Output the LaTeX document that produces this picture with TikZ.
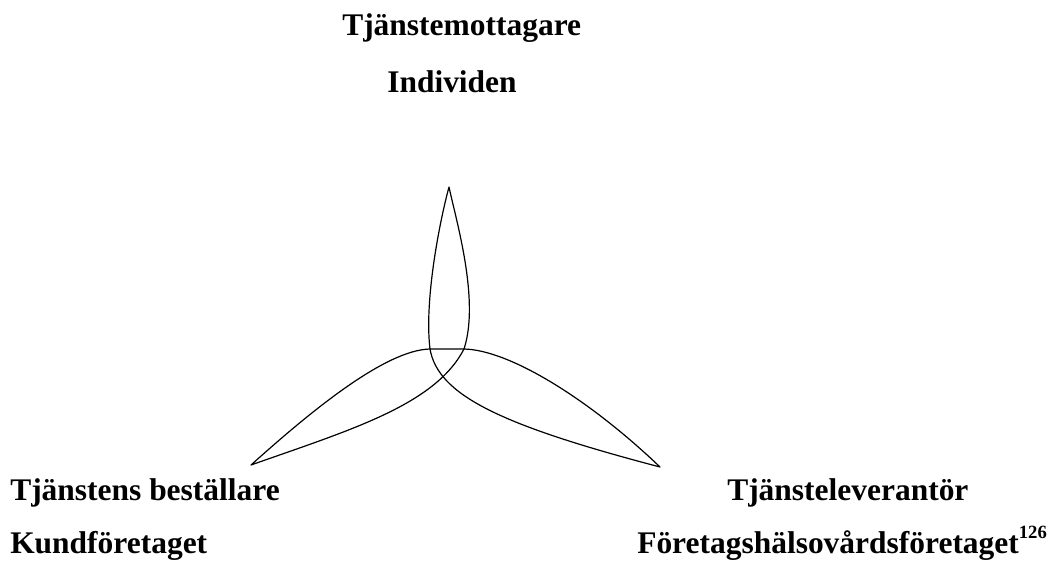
\documentclass[tikz,border=0pt]{standalone}
\usepackage{fontspec}
\setmainfont{Liberation Serif}
\usepackage{tikz}
\tikzset{
  lbl/.style   = {font=\fontsize{23.6}{28}\selectfont\bfseries, inner sep=0pt,
                  anchor=base west},
  petal/.style = {draw=black, line width=0.9pt, line join=round}
}
\newcommand{\fnref}[1]{\raisebox{11pt}{\fontsize{14}{14}\selectfont #1}}

\begin{document}
\begin{tikzpicture}[x=0.75pt, y=-0.75pt]
\useasboundingbox (0,0) rectangle (1060,564);

\node[lbl] (mottagare)  at (342,35)  {Tjänstemottagare};
\node[lbl] (individen)  at (387,92)  {Individen};
\node[lbl] (bestallare) at (10,500)  {Tjänstens beställare};
\node[lbl] (kund)       at (10,553)  {Kundföretaget};
\node[lbl] (leverantor) at (727,500) {Tjänsteleverantör};
\node[lbl] (fhv)        at (637,553) {Företagshälsovårdsföretaget\fnref{126}};

\coordinate (topTip)   at (449,187);
\coordinate (leftTip)  at (251,465);
\coordinate (rightTip) at (660,467);
\coordinate (jl)       at (430,349);
\coordinate (jr)       at (464,349);

% top petal
\draw[petal] (jl) .. controls (424,300) and (440,220) .. (topTip)
             .. controls (456,220) and (480,300) .. (jr) -- (jl);
% left petal
\draw[petal] (jl) .. controls (385,350) and (310,412) .. (leftTip)
             .. controls (350,430) and (435,405) .. (jr);
% right petal
\draw[petal] (jr) .. controls (510,350) and (590,400) .. (rightTip)
             .. controls (500,425) and (438,395) .. (jl);
\end{tikzpicture}
\end{document}
